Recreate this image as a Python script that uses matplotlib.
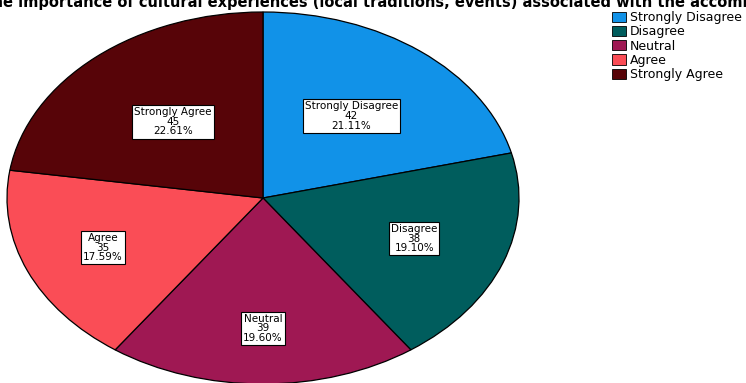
import matplotlib.pyplot as plt
import numpy as np

categories = ['Strongly Disagree', 'Disagree', 'Neutral', 'Agree', 'Strongly Agree']
counts = [42, 38, 39, 35, 45]
colors = ['#1192e8', '#005d5d', '#9f1853', '#fa4d56', '#570408']
title = ('Rate the importance of cultural experiences (local traditions, events) '
         'associated with the accommodation')

# radial position of each slice label (fraction of radius)
label_r = [0.56, 0.63, 0.70, 0.68, 0.54]

fig = plt.figure(figsize=(7.46, 3.83), dpi=100)
W, H = 746, 383
# pie fills an elliptical area: centre (263, 198), radii 256 x 186 px
ax = fig.add_axes([7 / W, (H - 384) / H, 512 / W, 372 / H])
wedges, _ = ax.pie(counts, colors=colors, startangle=90, counterclock=False,
                   wedgeprops=dict(edgecolor='black', linewidth=0.9))
ax.set_aspect('auto')
ax.set_xlim(-1, 1)
ax.set_ylim(-1, 1)
ax.axis('off')

total = sum(counts)
for w, cat, n, r in zip(wedges, categories, counts, label_r):
    ang = np.deg2rad((w.theta1 + w.theta2) / 2)
    ax.text(r * np.cos(ang), r * np.sin(ang),
            f'{cat}\n{n}\n{n / total * 100:.2f}%',
            ha='center', va='center', fontsize=7.5, family='DejaVu Sans',
            linespacing=0.95,
            bbox=dict(boxstyle='square,pad=0.2', facecolor='white',
                      edgecolor='black', linewidth=0.8))

# title is wider than the figure and runs off both edges
fig.text(-58 / W, 1 - 7 / H, title, ha='left', va='baseline',
         fontsize=10.5, fontweight='bold', family='DejaVu Sans')

handles = [plt.Rectangle((0, 0), 1, 1, facecolor=c, edgecolor='black', linewidth=0.6)
           for c in colors]
fig.legend(handles, categories, loc='upper left', bbox_to_anchor=(612 / W, 1 - 11 / H),
           frameon=False, prop={'family': 'DejaVu Sans', 'size': 9},
           handlelength=1.1, handleheight=0.9, handletextpad=0.3,
           labelspacing=0.1, borderpad=0, borderaxespad=0)

fig.savefig('out.png', dpi=100)
